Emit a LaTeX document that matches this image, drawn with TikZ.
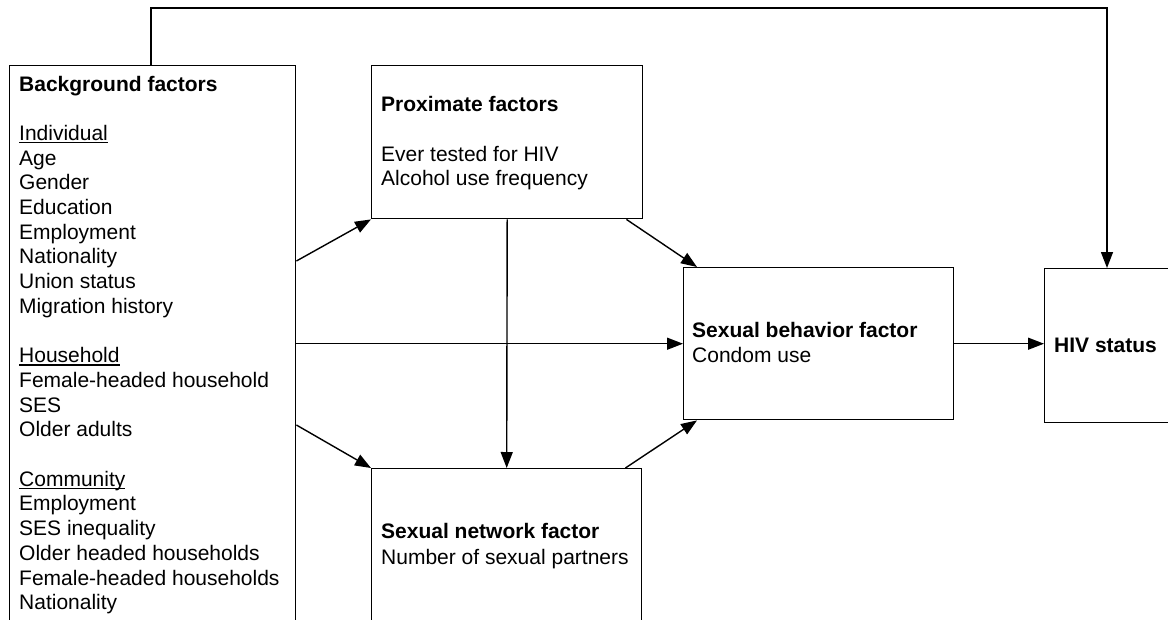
\documentclass[tikz,border=0pt]{standalone}
\usepackage{fontspec}
\setmainfont{Liberation Sans}
\usetikzlibrary{arrows.meta,calc}
\newcommand\myul[1]{\setbox0\hbox{#1}\rlap{\rule[-2.8pt]{\wd0}{1.2pt}}\box0}
\begin{document}
\begin{tikzpicture}[x=1pt,y=-1pt,
  box/.style={draw,line width=1.4pt,inner sep=0pt,anchor=north west},
  txt/.style={anchor=base west,inner sep=0pt,font=\fontsize{21}{24.7}\selectfont},
  arr/.style={line width=1.4pt,-{Triangle[length=16pt,width=12pt]}}]
\useasboundingbox (0,0) rectangle (1168,619);
\clip (0,0) rectangle (1168,619);
% boxes
\node[box,minimum width=286pt,minimum height=620pt] (bg) at (9,65) {};
\node[box,minimum width=271pt,minimum height=153pt] (prox) at (371,65) {};
\node[box,minimum width=270pt,minimum height=200pt] (net) at (371,468) {};
\node[box,minimum width=270pt,minimum height=152pt] (beh) at (683,267) {};
\node[box,minimum width=200pt,minimum height=154pt] (hiv) at (1044,268) {};
% background text
\foreach \t [count=\i from 0] in {\textbf{Background factors},{},\myul{Individual},Age,Gender,Education,Employment,Nationality,Union status,Migration history,{},\myul{Household},Female-headed household,SES,Older adults,{},\myul{Community},Employment,SES inequality,Older headed households,Female-headed households,Nationality}
  \node[txt] (bgt\i) at (19,91+24.7*\i) {\t};
% proximate text
\node[txt] (pt1) at (381,111.7) {\textbf{Proximate factors}};
\node[txt] (pt2) at (381,161) {Ever tested for HIV};
\node[txt] (pt3) at (381,185.5) {Alcohol use frequency};
% behavior text
\node[txt] (bt1) at (692,337) {\textbf{Sexual behavior factor}};
\node[txt] (bt2) at (692,362.5) {Condom use};
% network text
\node[txt] (nt1) at (381,538.5) {\textbf{Sexual network factor}};
\node[txt] (nt2) at (381,564) {Number of sexual partners};
% hiv text
\node[txt] (ht1) at (1054,352) {\textbf{HIV status}};
% connectors
\coordinate (tr) at (1107,8);
\draw[arr] ([xshift=142pt]bg.north west) |- (tr) -- (tr |- hiv.north);
\draw[arr] ([yshift=-196pt]bg.north east) -- (prox.south west);
\draw[arr] (bg.east |- beh.west) -- (beh.west);
\draw[arr] ([yshift=-360pt]bg.north east) -- (net.north west);
\draw[arr] (prox.south) -- (net.north);
\draw[arr] ([xshift=-17pt]prox.south east) -- ([xshift=14pt]beh.north west);
\draw[arr] ([xshift=-17pt]net.north east) -- ([xshift=14pt]beh.south west);
\draw[arr] (beh.east) -- (hiv.west |- beh.east);
\end{tikzpicture}
\end{document}
